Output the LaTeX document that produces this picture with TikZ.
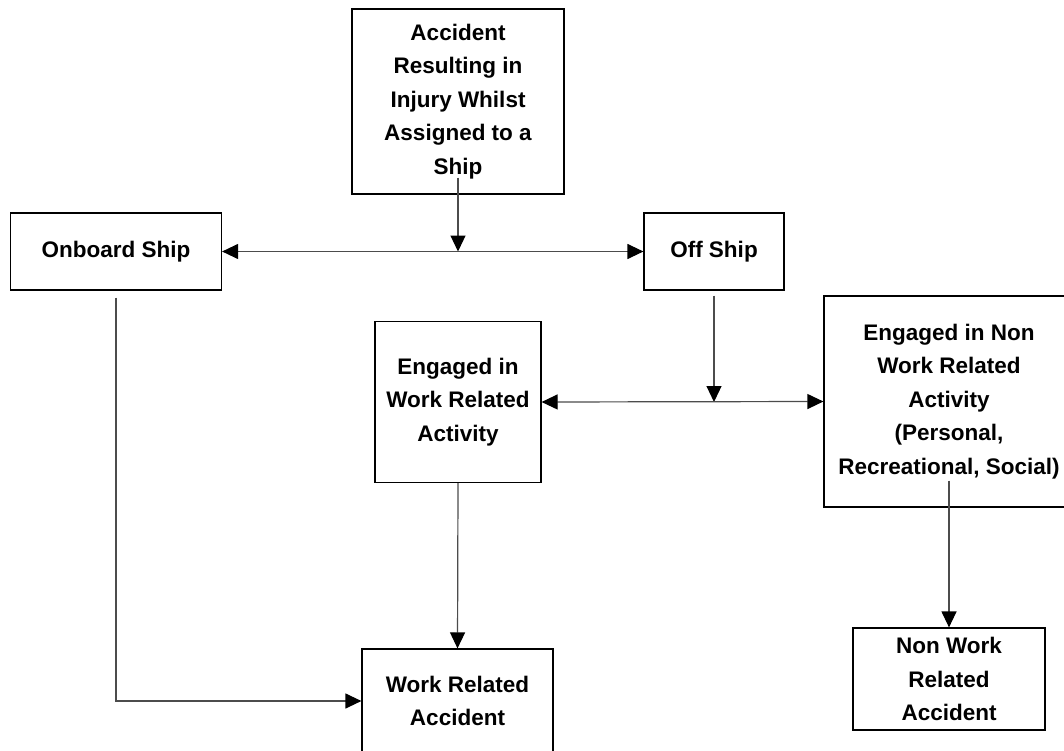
\documentclass[tikz,border=0pt]{standalone}
\usepackage{fontspec}
\setmainfont{Liberation Sans}
\usetikzlibrary{arrows.meta}
\begin{document}
\begin{tikzpicture}[x=1pt,y=-1pt,
  box/.style={draw=black,line width=1.2pt,inner sep=0pt,align=center,
    font=\bfseries\fontsize{22.5}{33.5}\selectfont},
  conn/.style={draw=black!70,line width=1.2pt},
  tip/.style={-{Triangle[length=16pt,width=15pt,color=black]}},
  tips/.style={{Triangle[length=16pt,width=15pt,color=black]}-{Triangle[length=16pt,width=15pt,color=black]}}]
\fill[white] (0,0) rectangle (1064,751);
\useasboundingbox (0,0) rectangle (1064,751);
\node[box,minimum width=212pt,minimum height=185pt] (top) at (458,101.5)
  {Accident\\Resulting in\\Injury Whilst\\Assigned to a\\Ship};
\node[box,minimum width=211pt,minimum height=77pt] (onboard) at (116,251.5) {Onboard Ship};
\node[box,minimum width=140pt,minimum height=77pt] (off) at (714,251.5) {Off Ship};
\node[box,minimum width=166pt,minimum height=161pt] (work) at (458,402)
  {Engaged in\\Work Related\\Activity};
\node[box,minimum width=250pt,minimum height=211pt] (nonwork) at (949,401.5)
  {Engaged in Non\\Work Related\\Activity\\(Personal,\\Recreational, Social)};
\node[box,minimum width=191pt,minimum height=104pt] (wra) at (457.5,701)
  {Work Related\\Accident};
\node[box,minimum width=192pt,minimum height=102pt] (nwra) at (949,679)
  {Non Work\\Related\\Accident};
\coordinate (j1) at (top.south |- onboard.east);
\coordinate (j2) at (off.south |- work.east);
\draw[conn,tip] ([yshift=17pt]top.south) -- (j1);
\draw[conn,tips] (onboard.east) -- (off.west);
\draw[conn,tip] ([yshift=-5pt]off.south) -- (j2);
\draw[conn,tips] (work.east) -- (nonwork.west);
\draw[conn,tip] ([yshift=-7pt]onboard.south) |- (wra.west);
\draw[conn,tip] (work.south) -- (wra.north);
\draw[conn,tip] ([yshift=27pt]nonwork.south) -- (nwra.north);
\end{tikzpicture}
\end{document}
